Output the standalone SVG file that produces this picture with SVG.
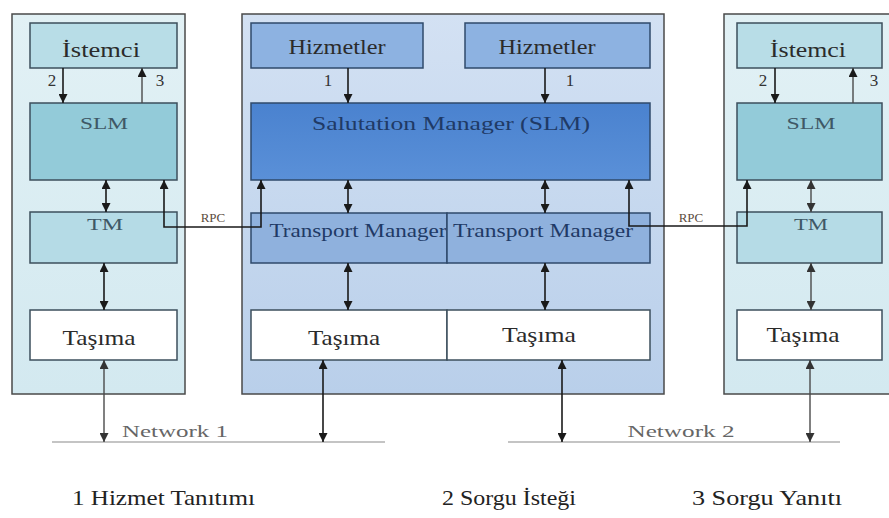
<svg xmlns="http://www.w3.org/2000/svg" width="889" height="518" viewBox="0 0 889 518" font-family="'Liberation Serif', 'DejaVu Serif', serif">
<defs>
<linearGradient id="gCenter" x1="0" y1="0" x2="0" y2="1">
<stop offset="0" stop-color="#d3e1f3"/><stop offset="1" stop-color="#b9cfea"/>
</linearGradient>
<linearGradient id="gSide" x1="0" y1="0" x2="0" y2="1">
<stop offset="0" stop-color="#e2f1f5"/><stop offset="1" stop-color="#d3e9f0"/>
</linearGradient>
<linearGradient id="gSlm" x1="0" y1="0" x2="0" y2="1">
<stop offset="0" stop-color="#4a82cf"/><stop offset="1" stop-color="#5a90d8"/>
</linearGradient>
<marker id="ah" viewBox="0 0 10 10" refX="10" refY="5" markerWidth="9" markerHeight="9" markerUnits="userSpaceOnUse" orient="auto-start-reverse">
<path d="M0,0 L10,5 L0,10 z" fill="#1a1a1a"/>
</marker>
<marker id="ahg" viewBox="0 0 10 10" refX="10" refY="5" markerWidth="9" markerHeight="9" markerUnits="userSpaceOnUse" orient="auto-start-reverse">
<path d="M0,0 L10,5 L0,10 z" fill="#333"/>
</marker>
</defs>
<style>
text{font-family:'Liberation Serif','DejaVu Serif',serif;text-anchor:middle}
.panel{stroke:#4a4a4a;stroke-width:1.5}
.box{stroke:#3d4f5c;stroke-width:1.5}
.cbox{stroke:#2f4a6b;stroke-width:1.5}
.side{fill:url(#gSide)}
.ist{fill:#b8dde7}
.slm{fill:#93cbd9}
.tm{fill:#b5dbe6}
.hiz{fill:#8db2e1}
.ctm{fill:#8fb1dd}
.tas{fill:#ffffff}
.dk{fill:#2b2b2b}
.nv{fill:#1f3a66}
.tl{fill:#3f5866}
.c{stroke:#1a1a1a;stroke-width:1.6;fill:none}
.cg{stroke:#4a4a4a;stroke-width:1.4;fill:none}
.net{stroke:#8a8a8a;stroke-width:1.2}
.lbl{font-size:17px;fill:#333}
.rpc{font-size:13px;fill:#5b4c3e}
.nw{font-size:17px;fill:#666}
.cap{font-size:22px;fill:#222;text-anchor:start}
</style>

<g id="client-left">
<rect class="panel side" x="12" y="14" width="173" height="380"/>
<g id="istemci-left"><rect class="box ist" x="30" y="23" width="147" height="45"/><text class="dk" x="101" y="57" font-size="21" textLength="78" lengthAdjust="spacingAndGlyphs">İstemci</text></g>
<g id="slm-left"><rect class="box slm" x="30" y="103" width="147" height="77"/><text class="tl" x="104" y="129" font-size="16" textLength="48" lengthAdjust="spacingAndGlyphs">SLM</text></g>
<g id="tm-left"><rect class="box tm" x="30" y="212" width="147" height="51"/><text class="tl" x="105" y="230" font-size="17" textLength="36" lengthAdjust="spacingAndGlyphs">TM</text></g>
<g id="tasima-left"><rect class="box tas" x="30" y="310" width="147" height="50"/><text class="dk" x="99" y="345" font-size="22" textLength="73" lengthAdjust="spacingAndGlyphs">Taşıma</text></g>
</g>

<g id="server">
<rect class="panel" fill="url(#gCenter)" x="242" y="14" width="422" height="380"/>
<g id="hizmetler-1"><rect class="cbox hiz" x="251" y="23" width="172" height="45"/><text class="dk" x="337" y="54" font-size="22" textLength="97" lengthAdjust="spacingAndGlyphs">Hizmetler</text></g>
<g id="hizmetler-2"><rect class="cbox hiz" x="465" y="23" width="185" height="45"/><text class="dk" x="547" y="54" font-size="22" textLength="97" lengthAdjust="spacingAndGlyphs">Hizmetler</text></g>
<g id="slm-center"><rect class="cbox" fill="url(#gSlm)" x="251" y="103" width="399" height="77"/><text class="nv" x="451" y="130" font-size="19" textLength="278" lengthAdjust="spacingAndGlyphs">Salutation Manager (SLM)</text></g>
<g id="tm-center-1"><rect class="cbox ctm" x="251" y="213" width="196" height="50"/><text class="nv" x="358" y="237" font-size="18" textLength="177" lengthAdjust="spacingAndGlyphs">Transport Manager</text></g>
<g id="tm-center-2"><rect class="cbox ctm" x="447" y="213" width="203" height="50"/><text class="nv" x="543" y="237" font-size="18" textLength="180" lengthAdjust="spacingAndGlyphs">Transport Manager</text></g>
<g id="tasima-center-1"><rect class="box tas" x="251" y="310" width="196" height="50"/><text class="dk" x="344" y="345" font-size="22" textLength="72" lengthAdjust="spacingAndGlyphs">Taşıma</text></g>
<g id="tasima-center-2"><rect class="box tas" x="447" y="310" width="203" height="50"/><text class="dk" x="539" y="342" font-size="22" textLength="74" lengthAdjust="spacingAndGlyphs">Taşıma</text></g>
</g>

<g id="client-right">
<rect class="panel side" x="724" y="14" width="172" height="380"/>
<g id="istemci-right"><rect class="box ist" x="737" y="23" width="145" height="45"/><text class="dk" x="808" y="57" font-size="21" textLength="76" lengthAdjust="spacingAndGlyphs">İstemci</text></g>
<g id="slm-right"><rect class="box slm" x="737" y="103" width="145" height="77"/><text class="tl" x="811" y="129" font-size="16" textLength="49" lengthAdjust="spacingAndGlyphs">SLM</text></g>
<g id="tm-right"><rect class="box tm" x="737" y="212" width="145" height="51"/><text class="tl" x="811" y="230" font-size="17" textLength="34" lengthAdjust="spacingAndGlyphs">TM</text></g>
<g id="tasima-right"><rect class="box tas" x="737" y="310" width="145" height="50"/><text class="dk" x="803" y="342" font-size="22" textLength="73" lengthAdjust="spacingAndGlyphs">Taşıma</text></g>
</g>

<g id="connectors">
<line class="net" x1="52" y1="442" x2="385" y2="442"/>
<line class="net" x1="508" y1="442" x2="840" y2="442"/>
<line class="c" x1="63" y1="68" x2="63" y2="103" marker-end="url(#ah)"/>
<line class="cg" x1="142" y1="103" x2="142" y2="68" marker-end="url(#ah)"/>
<line class="c" x1="106" y1="180" x2="106" y2="212" marker-start="url(#ah)" marker-end="url(#ah)"/>
<line class="c" x1="104" y1="263" x2="104" y2="310" marker-start="url(#ah)" marker-end="url(#ah)"/>
<line class="cg" x1="104" y1="360" x2="104" y2="442" marker-start="url(#ahg)" marker-end="url(#ahg)"/>
<path class="c" d="M261,180 L261,227 L164,227 L164,180" marker-start="url(#ah)" marker-end="url(#ah)"/>
<line class="c" x1="348" y1="68" x2="348" y2="103" marker-end="url(#ah)"/>
<line class="c" x1="545" y1="68" x2="545" y2="103" marker-end="url(#ah)"/>
<line class="c" x1="348" y1="180" x2="348" y2="213" marker-start="url(#ah)" marker-end="url(#ah)"/>
<line class="c" x1="545" y1="180" x2="545" y2="213" marker-start="url(#ah)" marker-end="url(#ah)"/>
<line class="c" x1="348" y1="263" x2="348" y2="310" marker-start="url(#ah)" marker-end="url(#ah)"/>
<line class="c" x1="545" y1="263" x2="545" y2="310" marker-start="url(#ah)" marker-end="url(#ah)"/>
<line class="c" x1="323" y1="360" x2="323" y2="442" marker-start="url(#ah)" marker-end="url(#ah)"/>
<line class="c" x1="562" y1="360" x2="562" y2="442" marker-start="url(#ah)" marker-end="url(#ah)"/>
<path class="c" d="M629,180 L629,226 L747,226 L747,180" marker-start="url(#ah)" marker-end="url(#ah)"/>
<line class="c" x1="775" y1="68" x2="775" y2="103" marker-end="url(#ah)"/>
<line class="cg" x1="853" y1="103" x2="853" y2="68" marker-end="url(#ah)"/>
<line class="cg" x1="811" y1="180" x2="811" y2="212" marker-start="url(#ahg)" marker-end="url(#ahg)"/>
<line class="cg" x1="811" y1="263" x2="811" y2="310" marker-start="url(#ahg)" marker-end="url(#ahg)"/>
<line class="cg" x1="810" y1="360" x2="810" y2="442" marker-start="url(#ahg)" marker-end="url(#ahg)"/>
<text class="lbl" x="52" y="86">2</text>
<text class="lbl" x="160" y="86">3</text>
<text class="lbl" x="328" y="86" font-size="15">1</text>
<text class="lbl" x="570" y="86">1</text>
<text class="lbl" x="763" y="86">2</text>
<text class="lbl" x="874" y="86">3</text>
<text class="rpc" x="213" y="222">RPC</text>
<text class="rpc" x="691" y="222">RPC</text>
<text class="nw" x="175" y="437" textLength="106" lengthAdjust="spacingAndGlyphs">Network 1</text>
<text class="nw" x="681" y="437" textLength="107" lengthAdjust="spacingAndGlyphs">Network 2</text>
</g>

<g id="captions">
<text class="cap" x="72" y="505" textLength="183" lengthAdjust="spacingAndGlyphs">1 Hizmet Tanıtımı</text>
<text class="cap" x="442" y="505" textLength="134" lengthAdjust="spacingAndGlyphs">2 Sorgu İsteği</text>
<text class="cap" x="692" y="505" textLength="150" lengthAdjust="spacingAndGlyphs">3 Sorgu Yanıtı</text>
</g>
</svg>
